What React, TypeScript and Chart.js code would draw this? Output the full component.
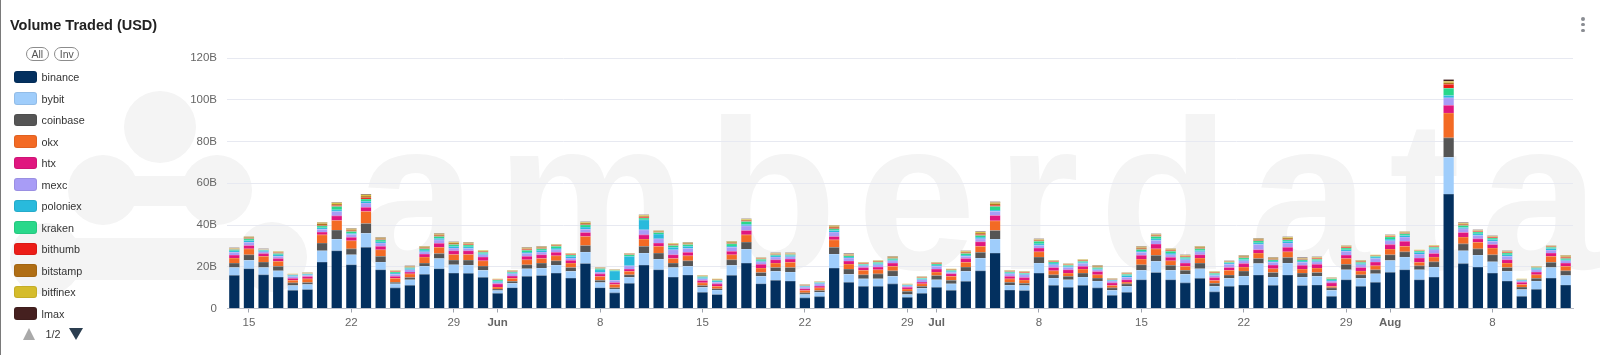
import React, { useEffect, useRef } from 'react';
import { Chart, registerables } from 'chart.js';

Chart.register(...registerables);

// ---- categories: daily, 2024-05-14 .. 2024-08-13 (92 days) ----
const startDate = [2024, 4, 14];
const dayCount = 92;
const categories: string[] = [];
for (let i = 0; i < dayCount; i++) {
  const d = new Date(Date.UTC(startDate[0], startDate[1], startDate[2] + i));
  categories.push(d.toISOString().slice(0, 10));
}

// x-axis tick labels [date, text, isMonth]
const xTickLabels: [string, string, boolean][] = [
  ['2024-05-15', '15', false],
  ['2024-05-22', '22', false],
  ['2024-05-29', '29', false],
  ['2024-06-01', 'Jun', true],
  ['2024-06-08', '8', false],
  ['2024-06-15', '15', false],
  ['2024-06-22', '22', false],
  ['2024-06-29', '29', false],
  ['2024-07-01', 'Jul', true],
  ['2024-07-08', '8', false],
  ['2024-07-15', '15', false],
  ['2024-07-22', '22', false],
  ['2024-07-29', '29', false],
  ['2024-08-01', 'Aug', true],
  ['2024-08-08', '8', false],
];

const yTicks = [0, 20, 40, 60, 80, 100, 120]; // in billions USD

// ---- series values (billions USD) ----
const binance = [
  15.9, 19.1, 16.2, 15.1, 8.8, 9.1, 22.3, 27.7, 21.0, 29.4,
  18.6, 9.9, 11.1, 16.4, 19.1, 17.0, 16.9, 15.0, 7.3, 10.0,
  15.4, 15.8, 17.0, 14.6, 21.6, 10.0, 7.5, 12.1, 20.8, 18.6,
  15.1, 16.1, 7.8, 6.7, 15.9, 21.8, 11.9, 13.5, 13.2, 5.1,
  5.7, 19.4, 12.6, 10.7, 10.7, 11.8, 5.4, 7.3, 10.2, 8.8,
  13.1, 18.1, 26.6, 8.9, 8.6, 17.0, 11.1, 10.2, 11.1, 9.9,
  6.4, 7.8, 13.8, 17.3, 13.8, 12.3, 14.5, 8.0, 10.7, 11.3,
  16.1, 11.1, 16.1, 11.0, 11.3, 5.9, 13.8, 10.7, 12.6, 17.4,
  18.6, 13.8, 15.1, 54.8, 21.5, 19.9, 17.0, 13.2, 5.9, 9.2,
  14.6, 11.3,
];
const bybit = [
  3.8, 4.0, 3.5, 3.0, 2.2, 2.4, 5.4, 5.6, 4.8, 6.7,
  3.7, 1.9, 2.7, 3.8, 4.8, 4.0, 3.9, 3.3, 1.3, 2.1,
  3.7, 3.6, 3.8, 3.2, 5.5, 2.4, 1.9, 2.9, 5.8, 5.1,
  4.5, 4.1, 2.4, 2.2, 4.8, 6.7, 3.5, 4.3, 4.3, 1.6,
  2.1, 6.7, 3.8, 3.5, 3.5, 3.6, 1.3, 2.4, 3.6, 3.0,
  4.7, 6.1, 6.7, 2.2, 2.4, 4.8, 3.5, 3.6, 4.0, 3.3,
  2.4, 2.9, 4.5, 5.3, 4.5, 4.1, 4.6, 2.7, 3.8, 4.3,
  5.4, 4.0, 5.7, 4.1, 4.1, 2.9, 4.8, 3.8, 4.1, 5.6,
  6.1, 4.8, 4.8, 17.6, 6.2, 5.7, 5.4, 4.6, 3.2, 4.0,
  5.1, 4.5,
];
const coinbase = [
  2.1, 2.7, 2.6, 2.1, 1.3, 0.9, 3.7, 4.3, 2.8, 4.6,
  2.7, 0.8, 1.0, 1.6, 2.4, 2.2, 2.4, 2.1, 0.8, 1.0,
  1.9, 2.4, 2.1, 1.9, 3.1, 1.1, 0.6, 1.2, 3.2, 2.9,
  2.2, 2.7, 0.8, 0.6, 2.7, 3.3, 1.9, 1.9, 2.2, 0.8,
  0.8, 3.3, 2.5, 2.0, 2.4, 2.7, 1.6, 1.0, 2.0, 1.7,
  2.1, 2.7, 4.1, 1.5, 1.1, 2.9, 1.6, 1.6, 1.9, 1.4,
  1.1, 1.1, 2.7, 2.9, 2.4, 1.9, 2.7, 1.4, 1.6, 2.4,
  2.5, 2.2, 2.6, 1.9, 1.9, 1.1, 2.6, 1.7, 1.9, 2.8,
  2.5, 1.9, 2.5, 9.4, 3.3, 3.0, 3.4, 1.9, 1.2, 1.3,
  2.4, 2.3,
];
const okx = [
  2.4, 2.8, 2.7, 2.4, 1.2, 1.8, 3.9, 4.6, 3.9, 5.8,
  3.2, 1.9, 1.8, 2.9, 3.1, 2.7, 2.7, 2.5, 0.9, 1.4,
  2.4, 2.2, 2.4, 2.1, 4.3, 1.8, 1.5, 1.6, 3.5, 3.2,
  2.2, 2.4, 1.3, 1.2, 2.4, 3.5, 2.1, 2.1, 2.4, 1.1,
  1.3, 3.5, 2.4, 2.1, 2.0, 2.1, 1.1, 1.2, 1.7, 1.9,
  2.2, 2.9, 4.6, 1.6, 1.6, 2.5, 1.9, 1.6, 1.9, 1.6,
  1.1, 0.9, 2.7, 3.1, 2.2, 1.9, 2.4, 1.3, 2.2, 1.9,
  2.6, 1.8, 2.8, 1.9, 2.1, 0.8, 2.7, 1.8, 1.9, 2.7,
  2.6, 1.6, 2.3, 11.9, 3.2, 3.1, 3.2, 2.1, 1.2, 1.7,
  2.9, 2.1,
];
const htx = [
  1.4, 1.6, 1.3, 1.3, 1.0, 1.1, 1.3, 2.2, 1.6, 2.0,
  1.6, 0.9, 0.9, 1.4, 1.8, 1.8, 1.8, 1.8, 1.5, 1.1,
  1.6, 1.8, 1.6, 1.3, 1.9, 1.3, 0.9, 1.1, 2.0, 1.6,
  1.8, 1.6, 1.1, 1.1, 1.6, 2.1, 1.8, 1.6, 1.6, 0.9,
  0.9, 1.6, 1.5, 1.3, 1.3, 1.6, 0.8, 0.8, 1.4, 1.3,
  1.8, 2.2, 2.6, 1.2, 1.1, 1.8, 1.6, 1.6, 1.3, 1.5,
  1.3, 1.1, 1.8, 2.3, 1.6, 1.6, 1.6, 1.4, 1.4, 1.6,
  1.6, 1.7, 2.1, 1.8, 1.8, 1.6, 1.7, 1.7, 1.8, 2.1,
  2.4, 2.1, 1.7, 3.7, 2.2, 1.7, 1.7, 1.6, 1.1, 1.3,
  1.6, 1.6,
];
const mexc = [
  1.3, 1.5, 0.9, 1.1, 0.8, 0.6, 1.4, 2.1, 1.4, 2.0,
  1.6, 1.0, 1.1, 1.1, 1.7, 1.3, 1.1, 1.1, 0.5, 1.0,
  1.3, 1.3, 1.3, 1.1, 1.6, 0.9, 1.1, 1.6, 2.4, 2.0,
  2.4, 1.9, 0.9, 0.8, 2.0, 2.2, 1.2, 1.3, 1.1, 0.8,
  1.0, 2.1, 1.4, 0.9, 1.1, 1.1, 0.6, 1.1, 1.3, 0.6,
  1.1, 1.4, 2.0, 1.2, 1.4, 1.2, 1.3, 1.1, 1.3, 0.9,
  0.9, 1.2, 1.4, 1.7, 1.3, 1.6, 1.4, 1.0, 1.5, 1.4,
  2.5, 1.3, 2.1, 1.4, 1.2, 0.9, 1.8, 1.3, 1.6, 1.9,
  2.0, 1.9, 1.8, 3.5, 1.8, 1.6, 1.5, 1.6, 0.6, 1.1,
  1.4, 1.1,
];
const poloniex = [
  0.8, 0.9, 0.6, 0.8, 0.6, 0.5, 0.7, 0.8, 0.6, 0.9,
  0.6, 0.6, 0.6, 0.8, 0.8, 0.8, 0.8, 0.6, 0.8, 0.5,
  0.8, 0.8, 0.8, 0.8, 1.0, 1.1, 4.5, 4.5, 4.8, 2.3,
  1.2, 1.0, 0.5, 0.6, 0.6, 0.8, 0.5, 0.6, 0.6, 0.3,
  0.5, 0.8, 0.5, 0.5, 0.6, 0.5, 0.3, 0.5, 0.6, 0.5,
  0.6, 0.8, 0.6, 0.5, 0.5, 0.8, 0.8, 0.5, 0.6, 0.5,
  0.3, 0.8, 0.6, 0.8, 0.8, 0.6, 0.6, 0.5, 0.6, 0.6,
  0.8, 0.6, 0.8, 0.6, 0.6, 0.5, 0.8, 0.6, 0.8, 0.8,
  0.8, 0.8, 0.6, 1.1, 0.6, 0.8, 0.8, 0.8, 0.3, 0.6,
  0.8, 0.5,
];
const kraken = [
  0.6, 0.8, 0.4, 0.6, 0.3, 0.3, 0.9, 1.6, 0.8, 1.1,
  0.9, 0.5, 0.5, 0.6, 0.8, 0.8, 0.8, 0.5, 0.5, 0.5,
  0.8, 0.7, 0.8, 0.6, 1.1, 0.6, 0.3, 0.8, 0.8, 0.7,
  0.8, 0.8, 0.5, 0.3, 1.0, 1.3, 0.7, 0.5, 0.5, 0.3,
  0.3, 0.8, 0.6, 0.3, 0.5, 0.6, 0.3, 0.3, 0.5, 0.5,
  0.7, 0.8, 1.7, 0.5, 0.3, 1.2, 0.5, 0.5, 0.5, 0.5,
  0.3, 0.6, 0.8, 1.1, 0.8, 0.6, 0.8, 0.6, 0.3, 0.8,
  1.0, 0.6, 0.7, 0.6, 0.6, 0.5, 0.8, 0.6, 0.3, 1.0,
  0.8, 0.6, 0.6, 3.5, 1.0, 0.8, 0.8, 0.8, 0.3, 0.5,
  0.6, 0.6,
];
const bithumb = [
  0.2, 0.3, 0.1, 0.25, 0.12, 0.12, 0.45, 0.5, 0.4, 0.6,
  0.3, 0.2, 0.2, 0.3, 0.4, 0.35, 0.3, 0.3, 0.18, 0.22,
  0.35, 0.3, 0.3, 0.25, 0.35, 0.18, 0.12, 0.2, 0.4, 0.25,
  0.3, 0.3, 0.2, 0.2, 0.3, 0.3, 0.2, 0.22, 0.2, 0.18,
  0.12, 0.45, 0.25, 0.25, 0.25, 0.25, 0.12, 0.18, 0.25, 0.2,
  0.35, 0.48, 0.55, 0.22, 0.25, 0.3, 0.22, 0.22, 0.25, 0.28,
  0.18, 0.22, 0.38, 0.32, 0.35, 0.3, 0.32, 0.22, 0.2, 0.3,
  0.28, 0.3, 0.38, 0.28, 0.3, 0.15, 0.3, 0.25, 0.2, 0.25,
  0.28, 0.18, 0.25, 1.9, 0.35, 0.28, 0.28, 0.28, 0.12, 0.18,
  0.2, 0.4,
];
const bitstamp = [
  0.3, 0.4, 0.15, 0.35, 0.18, 0.18, 0.65, 0.7, 0.55, 0.8,
  0.42, 0.3, 0.3, 0.45, 0.52, 0.5, 0.45, 0.38, 0.25, 0.32,
  0.5, 0.42, 0.38, 0.35, 0.5, 0.25, 0.18, 0.3, 0.55, 0.35,
  0.42, 0.38, 0.3, 0.3, 0.45, 0.45, 0.3, 0.32, 0.3, 0.25,
  0.18, 0.65, 0.35, 0.35, 0.35, 0.35, 0.18, 0.25, 0.35, 0.3,
  0.5, 0.66, 0.77, 0.32, 0.35, 0.42, 0.32, 0.32, 0.35, 0.38,
  0.25, 0.32, 0.52, 0.45, 0.5, 0.42, 0.45, 0.32, 0.3, 0.42,
  0.38, 0.42, 0.52, 0.38, 0.42, 0.21, 0.42, 0.35, 0.3, 0.35,
  0.38, 0.25, 0.35, 0.8, 0.5, 0.38, 0.38, 0.38, 0.18, 0.25,
  0.3, 0.55,
];
const bitfinex = [
  0.2, 0.25, 0.1, 0.25, 0.12, 0.12, 0.45, 0.5, 0.4, 0.55,
  0.3, 0.2, 0.2, 0.33, 0.38, 0.35, 0.33, 0.27, 0.17, 0.23,
  0.35, 0.3, 0.27, 0.25, 0.35, 0.17, 0.12, 0.2, 0.4, 0.25,
  0.3, 0.27, 0.2, 0.2, 0.33, 0.33, 0.2, 0.23, 0.2, 0.17,
  0.12, 0.45, 0.25, 0.25, 0.25, 0.25, 0.12, 0.17, 0.25, 0.2,
  0.35, 0.48, 0.55, 0.23, 0.25, 0.3, 0.23, 0.23, 0.25, 0.27,
  0.17, 0.23, 0.38, 0.33, 0.35, 0.3, 0.33, 0.23, 0.2, 0.3,
  0.27, 0.3, 0.38, 0.27, 0.3, 0.15, 0.3, 0.25, 0.2, 0.25,
  0.27, 0.17, 0.25, 0.7, 0.35, 0.27, 0.27, 0.27, 0.12, 0.17,
  0.2, 0.4,
];
const lmax = [
  0.1, 0.15, 0.05, 0.15, 0.08, 0.08, 0.25, 0.3, 0.25, 0.35,
  0.18, 0.1, 0.1, 0.22, 0.2, 0.2, 0.22, 0.15, 0.1, 0.13,
  0.2, 0.18, 0.15, 0.15, 0.2, 0.1, 0.08, 0.1, 0.25, 0.15,
  0.18, 0.15, 0.1, 0.1, 0.22, 0.22, 0.1, 0.13, 0.1, 0.1,
  0.08, 0.25, 0.15, 0.15, 0.15, 0.15, 0.08, 0.1, 0.15, 0.1,
  0.2, 0.28, 0.33, 0.13, 0.15, 0.18, 0.13, 0.13, 0.15, 0.17,
  0.1, 0.13, 0.22, 0.2, 0.2, 0.18, 0.2, 0.13, 0.1, 0.18,
  0.17, 0.18, 0.22, 0.17, 0.18, 0.09, 0.18, 0.15, 0.1, 0.15,
  0.17, 0.1, 0.15, 0.8, 0.2, 0.17, 0.17, 0.17, 0.08, 0.1,
  0.1, 0.25,
];

const seriesNames = ['binance', 'bybit', 'coinbase', 'okx', 'htx', 'mexc', 'poloniex', 'kraken', 'bithumb', 'bitstamp', 'bitfinex', 'lmax'];
const seriesValues = [binance, bybit, coinbase, okx, htx, mexc, poloniex, kraken, bithumb, bitstamp, bitfinex, lmax];
const seriesColors = ['#03305f', '#9fcdfb', '#555555', '#f36a24', '#e0167f', '#a89cf6', '#29badc', '#29d88a', '#ec1d17', '#b06e14', '#d5bc2b', '#45201f'];

const FONT = '"Liberation Sans", Arial, Helvetica, sans-serif';

const tickIndex: Record<number, [string, boolean]> = {};
xTickLabels.forEach(([d, t, m]) => {
  const i = categories.indexOf(d);
  if (i >= 0) tickIndex[i] = [t, m];
});

const watermarkPlugin = {
  id: 'watermark',
  beforeDraw(chart: any) {
    const ctx: CanvasRenderingContext2D = chart.ctx;
    ctx.save();
    ctx.fillStyle = '#f4f4f4';
    const circ = (x: number, y: number, r: number) => {
      ctx.beginPath();
      ctx.arc(x, y, r, 0, Math.PI * 2);
      ctx.fill();
    };
    // logo blobs
    circ(160, 127, 36);
    circ(103, 190, 35);
    circ(217, 190, 35);
    ctx.fillRect(103, 176, 114, 30);
    circ(46, 259, 36);
    circ(272, 257, 35);
    ctx.fillRect(46, 238, 226, 42);
    // wordmark
    ctx.font = `bold 214px ${FONT}`;
    ctx.textBaseline = 'alphabetic';
    let x = 357;
    for (const ch of 'amberdata') {
      ctx.fillText(ch, x, 269);
      x += ctx.measureText(ch).width + 20;
    }
    ctx.restore();
  },
};

// thin separator at the top of every stacked segment
const separatorPlugin = {
  id: 'separators',
  afterDatasetsDraw(chart: any) {
    const ctx: CanvasRenderingContext2D = chart.ctx;
    ctx.save();
    ctx.fillStyle = 'rgba(255,255,255,0.35)';
    chart.data.datasets.forEach((_d: any, di: number) => {
      const meta = chart.getDatasetMeta(di);
      meta.data.forEach((bar: any) => {
        const { x, y, width } = bar.getProps(['x', 'y', 'width'], true);
        ctx.fillRect(x - width / 2, y, width, 0.5);
      });
    });
    ctx.restore();
  },
};

export default function App() {
  const ref = useRef<HTMLCanvasElement>(null);

  useEffect(() => {
    if (!ref.current) return;
    const chart = new Chart(ref.current, {
      type: 'bar',
      data: {
        labels: categories,
        datasets: seriesNames.map((name, i) => ({
          label: name,
          data: seriesValues[i],
          backgroundColor: seriesColors[i],
          borderWidth: 0,
          barPercentage: 0.7,
          categoryPercentage: 1.0,
        })),
      },
      options: {
        responsive: false,
        animation: false,
        layout: { padding: { left: 0, right: 27, top: 58, bottom: 0 } },
        plugins: {
          legend: { display: false },
          tooltip: { enabled: false },
        },
        scales: {
          x: {
            stacked: true,
            offset: true,
            grid: {
              display: true,
              offset: false,
              drawOnChartArea: false,
              drawTicks: true,
              tickLength: 4,
              color: (c: any) => (tickIndex[c.index] ? '#a0a5ae' : 'rgba(0,0,0,0)'),
            },
            border: { display: true, color: '#b9bdc7', width: 1 },
            ticks: {
              autoSkip: false,
              maxRotation: 0,
              minRotation: 0,
              padding: 3,
              color: '#666',
              font: (c: any) => ({
                family: FONT,
                size: 11.5,
                weight: tickIndex[c.index] && tickIndex[c.index][1] ? 'bold' : 'normal',
              }),
              callback: (_v: any, i: number) => (tickIndex[i] ? tickIndex[i][0] : ''),
            },
            afterFit: (s: any) => {
              s.height = 46.5;
            },
          },
          y: {
            stacked: true,
            min: yTicks[0],
            max: yTicks[yTicks.length - 1],
            afterBuildTicks: (s: any) => {
              s.ticks = yTicks.map((v) => ({ value: v }));
            },
            grid: { color: '#e7e9f1', drawTicks: false, lineWidth: 1 },
            border: { display: false },
            ticks: {
              padding: 10,
              color: '#666',
              font: { family: FONT, size: 11.5 },
              callback: (v: any) => (v === 0 ? '0' : `${v}B`),
            },
            afterFit: (s: any) => {
              s.width = 227;
            },
          },
        },
      },
      plugins: [watermarkPlugin, separatorPlugin],
    } as any);
    return () => chart.destroy();
  }, []);

  const rowTop = 77;
  const rowGap = 21.5;

  return (
    <div
      style={{
        position: 'absolute',
        left: 0,
        top: 0,
        width: 1600,
        height: 355,
        overflow: 'hidden',
        background: '#fff',
        fontFamily: FONT,
      }}
    >
      <canvas ref={ref} width={1600} height={355} style={{ position: 'absolute', left: 0, top: 0, width: 1600, height: 355 }} />
      {/* left card edge */}
      <div style={{ position: 'absolute', left: 0, top: 0, width: 1, height: 355, background: '#7a7a7a' }} />
      {/* title */}
      <div
        style={{
          position: 'absolute',
          left: 10,
          top: 18.4,
          fontSize: 14.5,
          lineHeight: 1,
          fontWeight: 'bold',
          color: '#222',
          whiteSpace: 'nowrap',
        }}
      >
        Volume Traded (USD)
      </div>
      {/* kebab menu */}
      {[19, 24.7, 30.4].map((y, i) => (
        <div
          key={i}
          style={{ position: 'absolute', left: 1581.3, top: y - 1.7, width: 3.4, height: 3.4, borderRadius: 2, background: '#8a8d93' }}
        />
      ))}
      {/* All / Inv */}
      {[
        ['All', 26, 22.5],
        ['Inv', 54.3, 25],
      ].map(([t, x, w]) => (
        <div
          key={t as string}
          style={{
            position: 'absolute',
            left: x as number,
            top: 46.7,
            width: w as number,
            height: 14,
            boxSizing: 'border-box',
            border: '1px solid #8c8c8c',
            borderRadius: 8,
            fontSize: 10.5,
            lineHeight: '12px',
            textAlign: 'center',
            color: '#555',
          }}
        >
          {t}
        </div>
      ))}
      {/* legend rows */}
      {seriesNames.map((name, i) => (
        <div
          key={name}
          style={{
            position: 'absolute',
            left: 14,
            top: rowTop + i * rowGap - 7,
            height: 14,
            display: 'flex',
            alignItems: 'center',
          }}
        >
          <div
            style={{
              width: 22.5,
              height: 12.5,
              borderRadius: 3,
              background: seriesColors[i],
              boxShadow: 'inset 0 0 0 1px rgba(0,0,0,0.08)',
            }}
          />
          <span style={{ marginLeft: 5, fontSize: 10.8, color: '#333', whiteSpace: 'nowrap' }}>{name}</span>
        </div>
      ))}
      {/* pager */}
      <div
        style={{
          position: 'absolute',
          left: 22.7,
          top: 327.5,
          width: 0,
          height: 0,
          borderLeft: '6.3px solid transparent',
          borderRight: '6.3px solid transparent',
          borderBottom: '12.5px solid #a9a9a9',
        }}
      />
      <div style={{ position: 'absolute', left: 45.5, top: 327.5, fontSize: 10.8, lineHeight: '13px', color: '#333' }}>1/2</div>
      <div
        style={{
          position: 'absolute',
          left: 69.3,
          top: 327.5,
          width: 0,
          height: 0,
          borderLeft: '7px solid transparent',
          borderRight: '7px solid transparent',
          borderTop: '12.5px solid #2b3e50',
        }}
      />
    </div>
  );
}
